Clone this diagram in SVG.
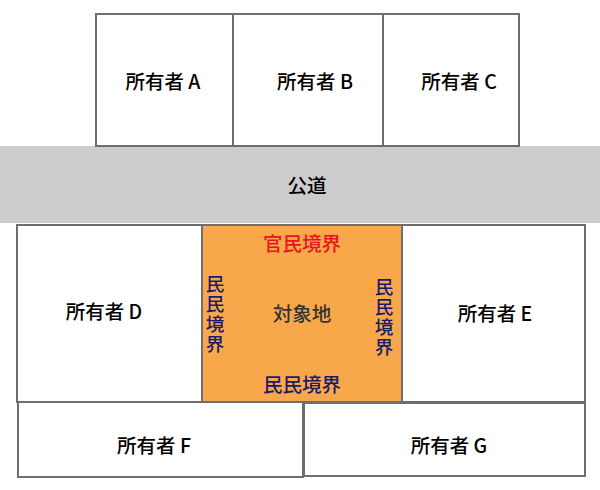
<svg xmlns="http://www.w3.org/2000/svg" width="600" height="490" viewBox="0 0 600 490">
<style>
.lot{fill:#ffffff;stroke:#6e6e6e;stroke-width:2}
.t{font-family:"Noto Sans CJK JP","Noto Sans",sans-serif;font-size:19.5px;font-weight:500;text-anchor:middle;dominant-baseline:central;fill:#000}
.b{font-family:"Noto Sans CJK JP",sans-serif;font-size:19.5px;font-weight:500;text-anchor:middle;dominant-baseline:central}
.v{font-size:18.5px;writing-mode:vertical-rl;letter-spacing:1.5px}
</style>
<rect width="600" height="490" fill="#fff"/>
<g id="road"><rect x="0" y="146" width="600" height="77" fill="#cccccc"/><text class="t" x="307" y="184">公道</text></g>
<g id="ownerA"><rect class="lot" x="96" y="14" width="137" height="132"/><text class="t" x="163" y="80">所有者 A</text></g>
<g id="ownerB"><rect class="lot" x="233" y="14" width="150" height="132"/><text class="t" x="315" y="80">所有者 B</text></g>
<g id="ownerC"><rect class="lot" x="383" y="14" width="136" height="132"/><text class="t" x="459" y="80">所有者 C</text></g>
<g id="ownerD"><rect class="lot" x="17" y="225" width="185" height="177"/><text class="t" x="104" y="310">所有者 D</text></g>
<g id="target"><rect x="202" y="225" width="200" height="177" fill="#f8a84a" stroke="#6e6e6e" stroke-width="2"/>
<text class="b" x="302" y="242" fill="#e8141e">官民境界</text>
<text class="b" x="302" y="312" fill="#333333">対象地</text>
<text class="b" x="302" y="383" fill="#1a1a6e">民民境界</text>
<text class="b v" x="215" y="315" fill="#1a1a6e">民民境界</text>
<text class="b v" x="384" y="318" fill="#1a1a6e">民民境界</text></g>
<g id="ownerE"><rect class="lot" x="402" y="225" width="183" height="177"/><text class="t" x="495" y="312">所有者 E</text></g>
<g id="ownerF"><rect class="lot" x="18" y="402" width="285" height="75"/><text class="t" x="154" y="444">所有者 F</text></g>
<g id="ownerG"><rect class="lot" x="304" y="403" width="281" height="73"/><text class="t" x="449" y="444">所有者 G</text></g>
<g id="connectors"/>
</svg>
